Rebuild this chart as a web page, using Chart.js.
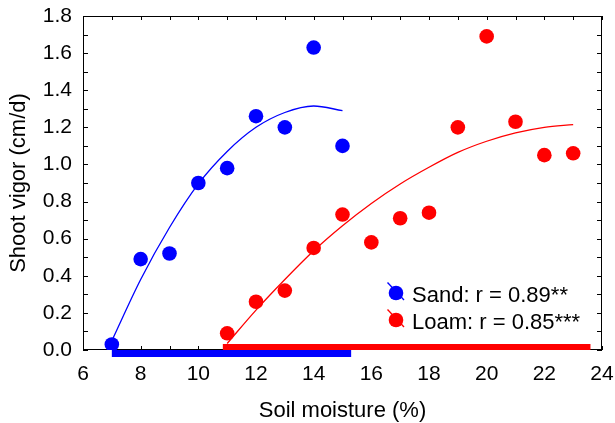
<!DOCTYPE html>
<html>
<head>
<meta charset="utf-8">
<script src="https://cdn.jsdelivr.net/npm/chart.js@4.4.1/dist/chart.umd.min.js"></script>
<style>
html,body{margin:0;padding:0;background:#fff;}
canvas{display:block;}
</style>
</head>
<body>
<canvas id="vigorChart" width="615" height="423"></canvas>
<script>

// measured shoot vigor by soil moisture
const sandX = [7, 8, 9, 10, 11, 12, 13, 14, 15];
const sandY = [0.03, 0.49, 0.52, 0.90, 0.98, 1.26, 1.20, 1.63, 1.10];
const loamX = [11, 12, 13, 14, 15, 16, 17, 18, 19, 20, 21, 22, 23];
const loamY = [0.09, 0.26, 0.32, 0.55, 0.73, 0.58, 0.71, 0.74, 1.20, 1.69, 1.23, 1.05, 1.06];

// fitted curves
const sandFitY = [0.05, 0.38, 0.66, 0.895, 1.07, 1.20, 1.28, 1.315, 1.29];
const loamFitY = [0.035, 0.215, 0.38, 0.535, 0.67, 0.79, 0.895, 0.985, 1.065, 1.125, 1.17, 1.20, 1.215];

// moisture ranges shown as bars on the x axis
const sandRange = [7, 15.3];
const loamRange = [10.85, 23.6];

const xTickLabels = [6, 8, 10, 12, 14, 16, 18, 20, 22, 24];
const yTickLabels = [0, 0.2, 0.4, 0.6, 0.8, 1.0, 1.2, 1.4, 1.6, 1.8];
const legendLabels = ["Sand: r = 0.89**", "Loam: r = 0.85***"];

const BLUE = "#0000ff";
const RED = "#ff0000";
const FONT = "Arial, 'Liberation Sans', sans-serif";

function pairs(xs, ys){
  return xs.map((x, i) => ({x: x, y: ys[i]}));
}

// frame with inward ticks, and the range bars
const framePlugin = {
  id: "frame",
  beforeDatasetsDraw(chart){
    const ctx = chart.ctx;
    const a = chart.chartArea;
    const xs = chart.scales.x;
    const ys = chart.scales.y;
    ctx.save();
    ctx.strokeStyle = "#000";
    ctx.lineWidth = 1;
    ctx.strokeRect(a.left + 0.5, a.top + 0.5, a.right - a.left - 1, a.bottom - a.top - 1);
    ctx.beginPath();
    for(let v = xs.min; v <= xs.max; v += 1){
      const px = Math.round(xs.getPixelForValue(v)) + 0.5;
      ctx.moveTo(px, a.top); ctx.lineTo(px, a.top + 4);
      ctx.moveTo(px, a.bottom); ctx.lineTo(px, a.bottom - 4);
    }
    for(let i = 0; i <= 18; i++){
      const py = Math.round(ys.getPixelForValue(i / 10)) + 0.5;
      ctx.moveTo(a.left, py); ctx.lineTo(a.left + 5, py);
      ctx.moveTo(a.right, py); ctx.lineTo(a.right - 5, py);
    }
    ctx.stroke();

    const b = a.bottom;
    ctx.fillStyle = BLUE;
    let x0 = xs.getPixelForValue(sandRange[0]);
    let x1 = xs.getPixelForValue(sandRange[1]);
    ctx.fillRect(x0, b, x1 - x0, 7);
    ctx.fillStyle = RED;
    x0 = xs.getPixelForValue(loamRange[0]);
    x1 = xs.getPixelForValue(loamRange[1]);
    ctx.fillRect(x0, b - 6, x1 - x0, 6);
    ctx.restore();
  },
  afterDraw(chart){
    const ctx = chart.ctx;
    const a = chart.chartArea;
    const colors = [BLUE, RED];
    ctx.save();
    ctx.font = "22px " + FONT;
    ctx.textBaseline = "alphabetic";
    legendLabels.forEach((txt, i) => {
      const cx = a.right - 206;
      const cy = a.bottom - 57 + i * 27;
      ctx.strokeStyle = colors[i];
      ctx.lineWidth = 1.3;
      ctx.beginPath();
      ctx.moveTo(cx - 8.5, cy - 10.5);
      ctx.lineTo(cx + 8, cy + 7);
      ctx.stroke();
      ctx.fillStyle = colors[i];
      ctx.beginPath();
      ctx.arc(cx, cy, 7.3, 0, Math.PI * 2);
      ctx.fill();
      ctx.fillStyle = "#000";
      ctx.fillText(txt, cx + 16, cy + 9);
    });
    ctx.restore();
  }
};

new Chart(document.getElementById("vigorChart"), {
  type: "scatter",
  data: {
    datasets: [
      {
        data: pairs(sandX, sandFitY),
        showLine: true,
        borderColor: BLUE,
        borderWidth: 1.3,
        pointRadius: 0,
        cubicInterpolationMode: "monotone",
        fill: false
      },
      {
        data: pairs(loamX, loamFitY),
        showLine: true,
        borderColor: RED,
        borderWidth: 1.3,
        pointRadius: 0,
        cubicInterpolationMode: "monotone",
        fill: false
      },
      {
        data: pairs(sandX, sandY),
        backgroundColor: BLUE,
        borderWidth: 0,
        pointRadius: 7.3
      },
      {
        data: pairs(loamX, loamY),
        backgroundColor: RED,
        borderWidth: 0,
        pointRadius: 7.3
      }
    ]
  },
  options: {
    responsive: false,
    animation: false,
    layout: {padding: {left: 0, right: 13, top: 16, bottom: 0}},
    plugins: {
      legend: {display: false},
      tooltip: {enabled: false}
    },
    scales: {
      x: {
        type: "linear",
        min: 6,
        max: 24,
        afterBuildTicks(scale){
          scale.ticks = xTickLabels.map(v => ({value: v}));
        },
        afterFit(scale){
          scale.height = 73;
          scale.paddingLeft = 0;
          scale.paddingRight = 0;
        },
        grid: {display: false, drawTicks: false},
        border: {display: false},
        ticks: {
          autoSkip: false,
          maxRotation: 0,
          padding: 12,
          color: "#000",
          font: {family: FONT, size: 21}
        },
        title: {
          display: true,
          text: "Soil moisture (%)",
          color: "#000",
          font: {family: FONT, size: 22, lineHeight: 1},
          padding: {top: 0, bottom: 1}
        }
      },
      y: {
        type: "linear",
        min: 0,
        max: 1.8,
        afterBuildTicks(scale){
          scale.ticks = yTickLabels.map(v => ({value: v}));
        },
        afterFit(scale){
          scale.width = 83;
          scale.paddingTop = 0;
          scale.paddingBottom = 0;
        },
        grid: {display: false, drawTicks: false},
        border: {display: false},
        ticks: {
          autoSkip: false,
          padding: 11,
          color: "#000",
          font: {family: FONT, size: 21},
          callback: v => v.toFixed(1)
        },
        title: {
          display: true,
          text: "Shoot vigor (cm/d)",
          color: "#000",
          font: {family: FONT, size: 22, lineHeight: 1},
          padding: {top: 8, bottom: 0}
        }
      }
    }
  },
  plugins: [framePlugin]
});

</script>
</body>
</html>
